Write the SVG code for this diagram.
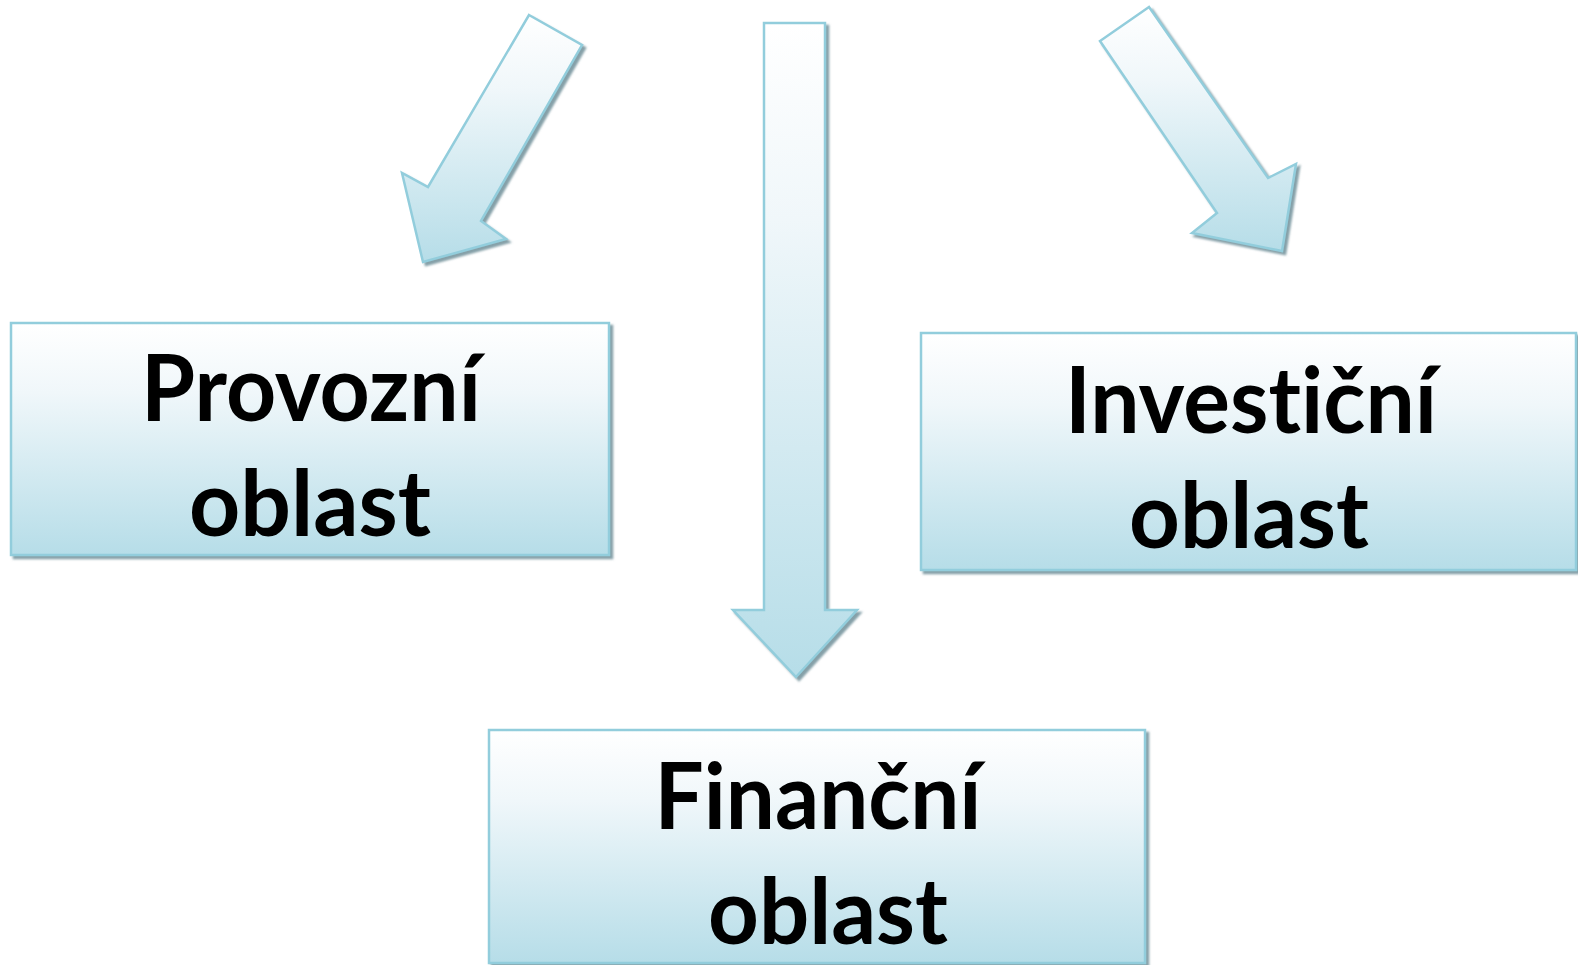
<svg xmlns="http://www.w3.org/2000/svg" width="1578" height="965" viewBox="0 0 1578 965">
<defs>
<linearGradient id="g" x1="0" y1="0" x2="0" y2="1">
<stop offset="0" stop-color="#ffffff"/>
<stop offset="0.3" stop-color="#f0f7fa"/>
<stop offset="1" stop-color="#b6dde8"/>
</linearGradient>
<filter id="sh" x="-10%" y="-10%" width="130%" height="130%">
<feDropShadow dx="3" dy="3" stdDeviation="0.8" flood-color="#6f8f99" flood-opacity="0.85"/>
</filter>
<style>
.shape{fill:url(#g);stroke:#92cddc;stroke-width:2.5;filter:url(#sh)}
.lbl{font-family:Lato,"Liberation Sans",sans-serif;font-weight:bold;font-size:91px;fill:#000;text-anchor:middle;font-variant-ligatures:none;font-feature-settings:"liga" 0,"clig" 0}
</style>
</defs>
<rect width="1578" height="965" fill="#fff"/>
<g id="connectors">
<path class="shape" d="M529,15 L582,45 L481,221 L506,239 L423,262 L402,173 L428,187 Z"/>
<path class="shape" d="M764,23 L825,23 L825,610 L857,610 L796,677 L733,610 L764,610 Z"/>
<path class="shape" d="M1149,7 L1100,41 L1217,213 L1192,233 L1282,251 L1296,164 L1268,178 Z"/>
</g>
<g id="provozni">
<rect class="shape" x="11" y="323" width="598" height="232"/>
<text class="lbl" x="311" y="421" textLength="340" lengthAdjust="spacingAndGlyphs">Provozní</text>
<text class="lbl" x="310" y="536" textLength="242" lengthAdjust="spacingAndGlyphs">oblast</text>
</g>
<g id="investicni">
<rect class="shape" x="921" y="333" width="655" height="237"/>
<text class="lbl" x="1251" y="433" textLength="372" lengthAdjust="spacingAndGlyphs">Investiční</text>
<text class="lbl" x="1249" y="548" textLength="240" lengthAdjust="spacingAndGlyphs">oblast</text>
</g>
<g id="financni">
<rect class="shape" x="489" y="730" width="656" height="233"/>
<text class="lbl" x="818" y="829" textLength="327" lengthAdjust="spacingAndGlyphs">Finanční</text>
<text class="lbl" x="828" y="944" textLength="240" lengthAdjust="spacingAndGlyphs">oblast</text>
</g>
</svg>
